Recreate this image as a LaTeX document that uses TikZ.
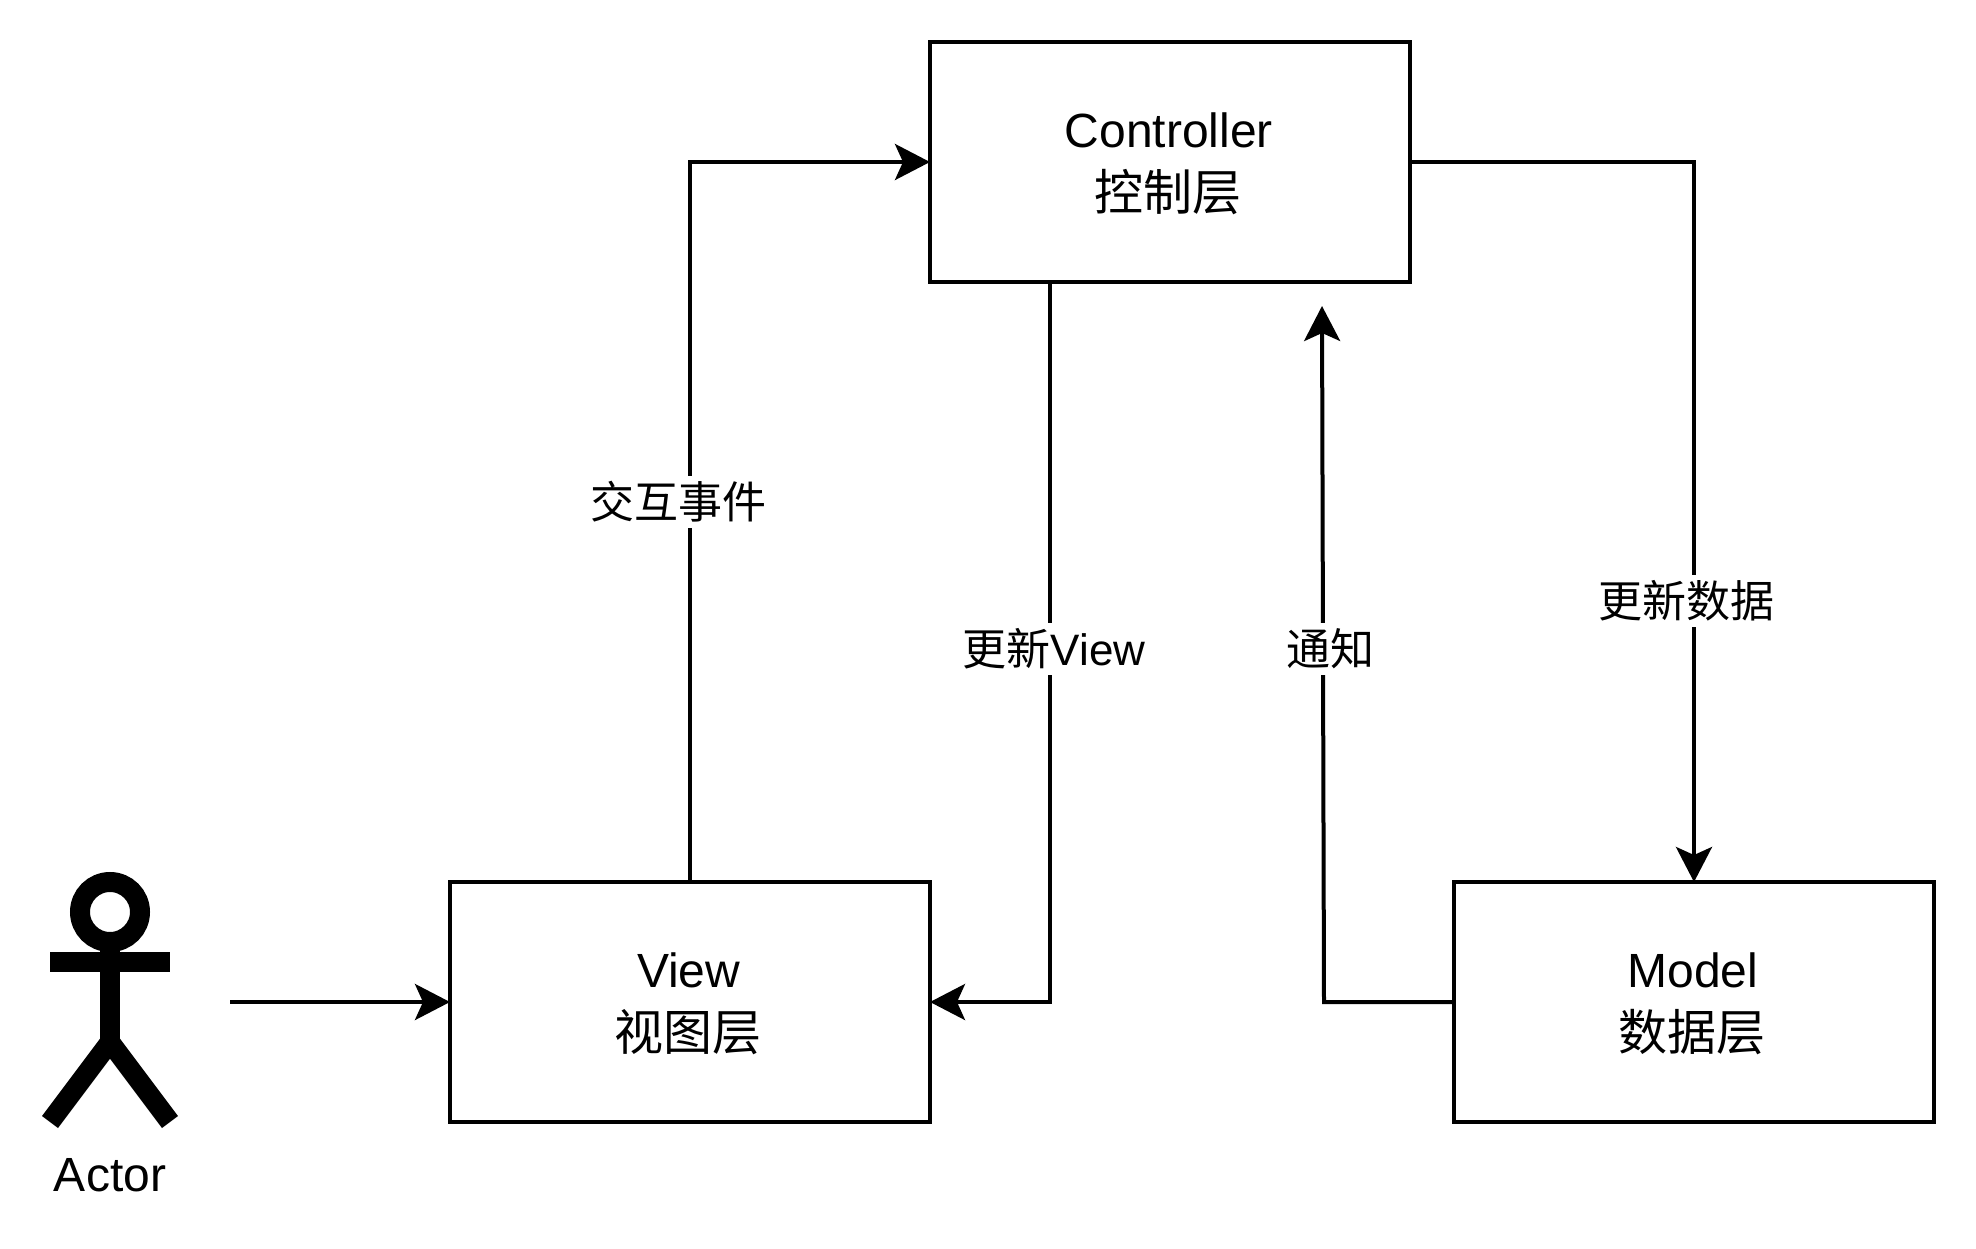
\documentclass[tikz,border=0pt]{standalone}
\usepackage{fontspec}
\setmainfont{Liberation Sans}
\newfontfamily\cjk{Noto Sans CJK SC}
\usetikzlibrary{arrows.meta,positioning}

\newcommand{\layertext}[2]{\rule{0pt}{19pt}#1\hspace*{1.3pt}\\[1.5pt]{\cjk\fontsize{24.5}{30}\selectfont #2}\hspace*{2pt}}

\tikzset{
  layer/.style={draw, line width=2pt, outer sep=0pt, minimum width=240pt, minimum height=120pt, align=center},
  link/.style={line width=2pt, -{Stealth[length=17.5pt,width=18pt,inset=4pt]}},
  edgelabel/.style={fill=white, inner xsep=0pt, inner ysep=0pt, minimum height=26pt, font=\fontsize{22}{26}\selectfont},
  stick/.style={line width=10pt, line join=miter}
}

\begin{document}
\begin{tikzpicture}[x=0.5pt, y=-0.5pt, every node/.style={font=\fontsize{24}{30}\selectfont}]
        \useasboundingbox (0,0) rectangle (1976,1248);

        % Draw layers
        \node[layer] (controller) at (1170,162) {\layertext{Controller}{控制层}};
        \node[layer] (view) at (690,1002) {\layertext{View}{视图层}};
        \node[layer] (model) at (1694,1002) {\layertext{Model}{数据层}};

        % Draw actor
        \draw[stick] (110,912) circle[radius=15pt];
        \draw[stick] (50,962) -- (170,962);
        \draw[stick] (110,942) -- (110,1042);
        \draw[stick] (50,1122) -- (110,1042) -- (170,1122);
        \node (actor) at (110,1175) {Actor};

        % Define free ends
        \coordinate (actorout) at (230,1002);
        \coordinate (ctrlout) at (1050,282);
        \coordinate (notifytip) at (1322,306);
        \coordinate (notifyturn) at (1324,1002);

        % Draw connectors
        \draw[link] (actorout) -- (view.west);
        \draw[link] (view.north) |- (controller.west);
        \draw[link] (ctrlout) |- (view.east);
        \draw[link] (controller.east) -| (model.north);
        \draw[link] (model.west) -- (notifyturn) -- (notifytip);

        % Label connectors
        \node[edgelabel] (eventlabel) at (678,502) {{\cjk 交互事件}};
        \node[edgelabel] (updateviewlabel) at (1054,649) {{\cjk 更新}View};
        \node[edgelabel] (notifylabel) at (1330,649) {{\cjk 通知}};
        \node[edgelabel] (updatedatalabel) at (1686,601) {{\cjk 更新数据}};
\end{tikzpicture}
\end{document}
